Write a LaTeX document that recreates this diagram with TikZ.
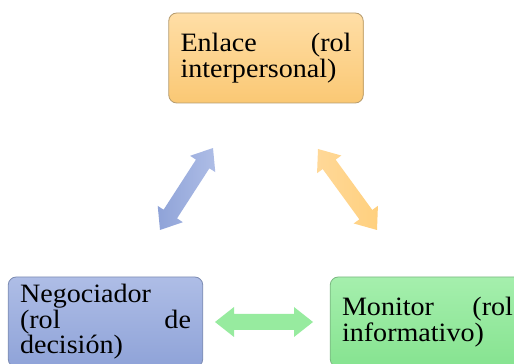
\documentclass[tikz,border=0pt]{standalone}
\usepackage{fontspec}
\setmainfont[FakeStretch=1.06]{Liberation Serif}
\usetikzlibrary{calc}

\definecolor{orTop}{HTML}{FFDEA6}
\definecolor{orBot}{HTML}{FAC874}
\definecolor{orLine}{HTML}{B59B6E}
\definecolor{blTop}{HTML}{AEBDE6}
\definecolor{blBot}{HTML}{8FA3D8}
\definecolor{blLine}{HTML}{7E8DB3}
\definecolor{grTop}{HTML}{A5EFAD}
\definecolor{grBot}{HTML}{86E390}
\definecolor{grLine}{HTML}{7BB882}
\definecolor{orArrA}{HTML}{FFD898}
\definecolor{orArrB}{HTML}{FFD07E}
\definecolor{grArr}{HTML}{97EB9F}

\tikzset{
  role/.style={rounded corners=8pt, line width=0.8pt,
    minimum width=194.5pt, minimum height=90pt,
    text width=171pt, inner xsep=0pt, inner ysep=0pt, align=left,
    font=\fontsize{26.5}{25.5}\selectfont},
  orangebox/.style={draw=orLine, top color=orTop, bottom color=orBot},
  bluebox/.style={draw=blLine, top color=blTop, bottom color=blBot},
  greenbox/.style={draw=grLine, top color=grTop, bottom color=grBot},
  bluearrow/.style={left color=blBot, right color=blTop},
  orangearrow/.style={left color=orArrA, right color=orArrB},
  greenarrow/.style={fill=grArr},
}

% two-headed block arrow from #1 to #2, filled with style #3
\newcommand\blockarrow[3]{%
  \path[#3] let \p1=($(#2)-(#1)$), \n1={atan2(\y1,\x1)}, \n2={veclen(\x1,\y1)} in
    [shift={(#1)}, rotate=\n1]
    (0,0) -- (19,15) -- (19,8) -- ({\n2-19},8) -- ({\n2-19},15) -- ({\n2},0)
    -- ({\n2-19},-15) -- ({\n2-19},-8) -- (19,-8) -- (19,-15) -- cycle;}

\begin{document}
\begin{tikzpicture}[x=1pt,y=1pt]
  \useasboundingbox (0,0) rectangle (514,364);
  \clip (0,0) rectangle (514,364);

  \node[role, orangebox] (enlace) at (266,306) {Enlace\hfill(rol\\interpersonal)};
  \node[role, bluebox] (negociador) at (105.5,42) {Negociador\\(rol\hfill de\\decisión)};
  \node[role, greenbox] (monitor) at (427.5,42) {Monitor\hfill(rol\\informativo)};

  \coordinate (b1) at (160,134);
  \coordinate (b2) at (213,216);
  \coordinate (o1) at (318,215);
  \coordinate (o2) at (377,134);
  \coordinate (g1) at (215,42);
  \coordinate (g2) at (313,42);

  \blockarrow{b1}{b2}{bluearrow}
  \blockarrow{o1}{o2}{orangearrow}
  \blockarrow{g1}{g2}{greenarrow}
\end{tikzpicture}
\end{document}
